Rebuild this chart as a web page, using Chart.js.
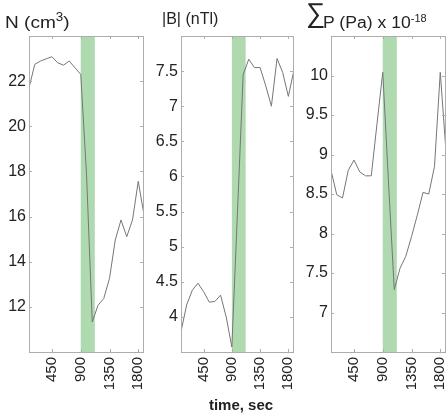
<!DOCTYPE html>
<html>
<head>
<meta charset="utf-8">
<script src="https://cdn.jsdelivr.net/npm/chart.js@4"></script>
<style>
  body { margin: 0; background: #fff; }
  #wrap { position: relative; width: 447px; height: 420px; overflow: hidden; font-family: "Liberation Sans", Arial, sans-serif; color: #222; }
  canvas { position: absolute; top: 0; }
  .title { position: absolute; white-space: nowrap; line-height: 20px; }
  #xlabel { position: absolute; left: 0; width: 482px; top: 396px; text-align: center; font-weight: bold; font-size: 15px; }
</style>
</head>
<body>
<div id="wrap">
  <canvas id="c1" width="148" height="420" style="left:0px"></canvas>
  <canvas id="c2" width="148" height="420" style="left:150px"></canvas>
  <canvas id="c3" width="147" height="420" style="left:300px"></canvas>
  <div class="title" style="left:5px; top:7px; font-size:17px; transform:scaleX(1.12); transform-origin:left top;">N (cm<sup style="font-size:12px;">3</sup>)</div>
  <div class="title" style="left:162px; top:9px; font-size:16px;">|B| (nTl)</div>
  <div class="title" style="left:306px; top:3px; font-size:27px;">&sum;</div>
  <div class="title" style="left:323px; top:9px; font-size:16px; transform:scaleX(1.1); transform-origin:left top;">P (Pa) x 10<sup style="font-size:10px;">-18</sup></div>
  <div id="xlabel">time, sec</div>
</div>
<script>
// sample times (sec)
const times = [90, 180, 270, 360, 450, 540, 630, 720, 810, 900, 990,
  1080, 1170, 1260, 1350, 1440, 1530, 1620, 1710, 1800, 1890];

// N (cm^3)
const density = [21.7, 22.74, 22.89, 22.99, 23.08, 22.81, 22.71, 22.89, 22.59, 22.3, 17.9,
  11.33, 12.07, 12.37, 13.26, 14.96, 15.85, 15.11, 15.85, 17.56, 16.07];

// |B| (nTl)
const field = [3.79, 4.17, 4.38, 4.48, 4.36, 4.21, 4.22, 4.31, 4.0, 3.57, 5.5,
  7.45, 7.67, 7.55, 7.55, 7.29, 7.0, 7.68, 7.48, 7.14, 7.52];

// sum P (Pa) x 1e-18
const pressure = [8.8, 8.49, 8.45, 8.8, 8.93, 8.78, 8.73, 8.73, 9.39, 10.04, 8.65,
  7.29, 7.56, 7.71, 7.96, 8.23, 8.52, 8.5, 8.85, 10.04, 9.04];

const xTicks = [450, 900, 1350, 1800];
const densityTicks = [12, 14, 16, 18, 20, 22];
const fieldTicks = [4, 4.5, 5, 5.5, 6, 6.5, 7, 7.5];
const pressureTicks = [7, 7.5, 8, 8.5, 9, 9.5, 10];

// shaded interval (sec)
const bandStart = 900;
const bandEnd = 1120;

const xFont = { family: '"Liberation Sans", Arial, sans-serif', size: 15 };
const yFont = { family: '"Liberation Sans", Arial, sans-serif', size: 16 };

// green band behind the line
const bandPlugin = {
  id: 'band',
  beforeDatasetsDraw: function(chart) {
    const ctx = chart.ctx;
    const x = chart.scales.x;
    const area = chart.chartArea;
    const x0 = x.getPixelForValue(bandStart);
    const x1 = x.getPixelForValue(bandEnd);
    ctx.save();
    ctx.fillStyle = '#afd9af';
    ctx.fillRect(x0, area.top, x1 - x0, area.bottom - area.top);
    ctx.restore();
  }
};

// matlab style box with inner ticks
const boxPlugin = {
  id: 'box',
  afterDraw: function(chart) {
    const ctx = chart.ctx;
    const a = chart.chartArea;
    const x = chart.scales.x;
    const y = chart.scales.y;
    ctx.save();
    ctx.strokeStyle = '#adadad';
    ctx.lineWidth = 1;
    ctx.strokeRect(Math.round(a.left) + 0.5, Math.round(a.top) + 0.5,
      Math.round(a.right - a.left) - 1, Math.round(a.bottom - a.top));
    ctx.beginPath();
    y.ticks.forEach(function(t) {
      const py = Math.round(y.getPixelForValue(t.value)) + 0.5;
      ctx.moveTo(a.left, py); ctx.lineTo(a.left + 3, py);
      ctx.moveTo(a.right - 1, py); ctx.lineTo(a.right - 4, py);
    });
    x.ticks.forEach(function(t) {
      const px = Math.round(x.getPixelForValue(t.value)) + 0.5;
      ctx.moveTo(px, a.bottom); ctx.lineTo(px, a.bottom - 3);
      ctx.moveTo(px, a.top); ctx.lineTo(px, a.top + 3);
    });
    ctx.stroke();
    ctx.restore();
  }
};

function makePanel(id, values, yMin, yMax, yTicks, yWidth, rightPad) {
  const points = times.map(function(t, i) { return { x: t, y: values[i] }; });
  return new Chart(document.getElementById(id), {
    type: 'line',
    data: {
      datasets: [{
        data: points,
        borderColor: '#767676',
        borderWidth: 1,
        pointRadius: 0,
        tension: 0,
        fill: false
      }]
    },
    options: {
      responsive: false,
      animation: false,
      devicePixelRatio: 1,
      layout: { autoPadding: false, padding: { top: 36, right: rightPad, left: 0, bottom: 0 } },
      plugins: { legend: { display: false }, tooltip: { enabled: false } },
      scales: {
        x: {
          type: 'linear',
          min: times[0],
          max: times[times.length - 1],
          grid: { display: false, drawTicks: false },
          border: { display: false },
          afterBuildTicks: function(axis) {
            axis.ticks = xTicks.map(function(v) { return { value: v }; });
          },
          afterFit: function(axis) {
            axis.height = 68;
            axis.paddingLeft = 0;
            axis.paddingRight = 0;
          },
          ticks: {
            minRotation: 90,
            maxRotation: 90,
            padding: 5,
            color: '#222',
            font: xFont,
            callback: function(v) { return String(v); }
          }
        },
        y: {
          min: yMin,
          max: yMax,
          grid: { display: false, drawTicks: false },
          border: { display: false },
          afterBuildTicks: function(axis) {
            axis.ticks = yTicks.map(function(v) { return { value: v }; });
          },
          afterFit: function(axis) {
            axis.width = yWidth;
            axis.paddingTop = 0;
            axis.paddingBottom = 0;
          },
          ticks: {
            padding: 3,
            color: '#222',
            font: yFont,
            callback: function(v) { return String(v); }
          }
        }
      }
    },
    plugins: [bandPlugin, boxPlugin]
  });
}

makePanel('c1', density, 10, 24, densityTicks, 29, 4);
makePanel('c2', field, 3.5, 8, fieldTicks, 31, 4);
makePanel('c3', pressure, 6.5, 10.5, pressureTicks, 31, 1);
</script>
</body>
</html>
